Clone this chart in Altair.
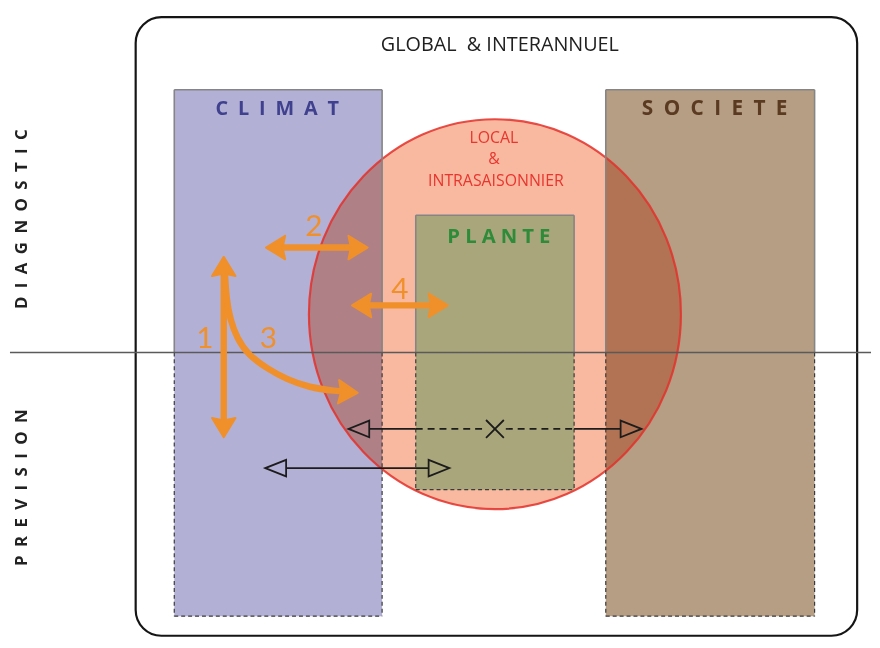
import altair as alt
import pandas as pd

# ---------------- data (diagram coordinates, page pixels) ----------------
# boxes
box_names = ["CLIMAT", "PLANTE", "SOCIETE"]
box_x0 = [176, 420, 612]
box_x1 = [386, 580, 823]
box_y0 = [88, 216, 88]
box_y1 = [625, 496, 625]
box_fill = ["#b3b0d6", "#aaa67b", "#b59e84"]
split_y = 356  # DIAGNOSTIC / PREVISION separation

# box titles (letter-spaced)
title_text = ["C\u2002L\u2002I\u2002M\u2002A\u2002T",
              "P\u2005L\u2005A\u2005N\u2005T\u2005E",
              "S\u2002O\u2002C\u2002I\u2002E\u2002T\u2002E"]
title_x = [280, 504, 722]
title_y = [108, 238, 108]
title_size = [20, 20.5, 21]
title_color = ["#3f418e", "#2e8b3a", "#5b3a22"]

# outer frame
frame_x0, frame_x1, frame_y0, frame_y1 = [137], [866], [14], [645]

# local / intrasaisonnier ellipse
ell_x, ell_y = [500], [317]

# texts
head_text = ["GLOBAL\u00a0\u00a0& INTERANNUEL"]
head_x, head_y = [505], [42]
local_text = ["LOCAL", "&", "INTRASAISONNIER"]
local_x = [499, 499, 501]
local_y = [137, 159, 181]
side_text = ["D\u2002I\u2002A\u2002G\u2002N\u2002O\u2002S\u2002T\u2002I\u2002C",
             "P\u2002R\u2002E\u2002V\u2002I\u2002S\u2002I\u2002O\u2002N"]
side_x = [22, 22]
side_y = [220, 494]
num_text = ["1", "2", "3", "4"]
num_x = [207, 317, 271, 404]
num_y = [342, 228, 342, 292]

# orange arrows: straight shafts
osh_x = [226, 280, 367]
osh_x2 = [226, 360, 441]
osh_y = [270, 249, 308]
osh_y2 = [431, 249, 308]
# orange curved arrow (3)
curve_x = [227, 229, 233, 240, 252, 270, 290, 313, 337, 349]
curve_y = [272, 300, 322, 341, 358, 372, 383, 391, 395, 396]
# orange arrow heads (center, direction in degrees)
ohead_x = [226, 226, 280.5, 359.5, 367.5, 440.5, 349.5]
ohead_y = [270.5, 430.5, 249, 249, 308, 308, 396.5]
ohead_a = [270, 90, 180, 0, 180, 0, 3]

# black arrows
bsolid_x = [373, 580, 289]
bsolid_x2 = [420, 627, 433]
bsolid_y = [434, 434, 474]
bdash_x = [420, 511]
bdash_x2 = [490, 580]
bdash_y = [434, 434]
bhead_x = [362.5, 637.5, 278.5, 443.5]
bhead_y = [434, 434, 474, 474]
bhead_a = [180, 0, 180, 0]
cross_x, cross_y = [500], [434]

# separation line
sep_x, sep_x2, sep_y = [10], [880], [356]

# ---------------- helpers ----------------
XS = alt.Scale(domain=[8, 872], nice=False, zero=False)
YS = alt.Scale(domain=[646, 8], nice=False, zero=False)


def X(f="x"):
    return alt.X(f"{f}:Q", scale=XS, axis=None)


def Y(f="y"):
    return alt.Y(f"{f}:Q", scale=YS, axis=None)


boxes = pd.DataFrame(dict(name=box_names, x=box_x0, x2=box_x1, y=box_y0,
                          y2=box_y1, fill=box_fill))

# border segments derived from boxes
sol = {"x": [], "x2": [], "y": [], "y2": []}
dsh = {"x": [], "x2": [], "y": [], "y2": []}
for a, b, t, bot in zip(box_x0, box_x1, box_y0, box_y1):
    for k, v in zip(("x", "x2", "y", "y2"), (a, b, t, t)):
        sol[k].append(v)
    for xx in (a, b):
        for k, v in zip(("x", "x2", "y", "y2"), (xx, xx, t, split_y)):
            sol[k].append(v)
        for k, v in zip(("x", "x2", "y", "y2"), (xx, xx, split_y, bot)):
            dsh[k].append(v)
    for k, v in zip(("x", "x2", "y", "y2"), (a, b, bot, bot)):
        dsh[k].append(v)
sol = pd.DataFrame(sol)
dsh = pd.DataFrame(dsh)

# ---------------- layers ----------------
frame = alt.Chart(pd.DataFrame(dict(x=frame_x0, x2=frame_x1, y=frame_y0, y2=frame_y1))).mark_rect(
    cornerRadius=26, fillOpacity=0, stroke="#151515", strokeWidth=2.2
).encode(x=X(), x2="x2:Q", y=Y(), y2="y2:Q")

big_boxes = alt.Chart(boxes[boxes.name != "PLANTE"]).mark_rect().encode(
    x=X(), x2="x2:Q", y=Y(), y2="y2:Q", color=alt.Color("fill:N", scale=None)
)

ELL = "M -0.954 0 A 0.954 1 0 1 1 0.954 0 A 0.954 1 0 1 1 -0.954 0 Z"
ell_df = pd.DataFrame(dict(x=ell_x, y=ell_y))
ellipse = alt.Chart(ell_df).mark_point(
    shape=ELL, size=394 * 394, filled=True, fill="#f9b9a0", fillOpacity=1, opacity=1,
    strokeWidth=0, blend="multiply"
).encode(x=X(), y=Y())
ellipse_edge = alt.Chart(ell_df).mark_point(
    shape=ELL, size=394 * 394, filled=False, stroke="#e4312b", strokeWidth=2.2,
    opacity=0.85
).encode(x=X(), y=Y())

plante = alt.Chart(boxes[boxes.name == "PLANTE"]).mark_rect().encode(
    x=X(), x2="x2:Q", y=Y(), y2="y2:Q", color=alt.Color("fill:N", scale=None)
)

solid_b = alt.Chart(sol).mark_rule(color="#858585", strokeWidth=1.6).encode(
    x=X(), x2="x2:Q", y=Y(), y2="y2:Q")
dash_b = alt.Chart(dsh).mark_rule(color="#3a3a3a", strokeWidth=1.2, strokeDash=[4, 3]).encode(
    x=X(), x2="x2:Q", y=Y(), y2="y2:Q")

sep = alt.Chart(pd.DataFrame(dict(x=sep_x, x2=sep_x2, y=sep_y))).mark_rule(
    color="#5a5a5a", strokeWidth=1.6).encode(x=X(), x2="x2:Q", y=Y())

titles = alt.Chart(pd.DataFrame(dict(t=title_text, x=title_x, y=title_y, c=title_color,
                                     s=title_size))).mark_text(
    font="Open Sans", fontWeight="bold", baseline="middle", align="center"
).encode(x=X(), y=Y(), text="t:N", color=alt.Color("c:N", scale=None),
         size=alt.Size("s:Q", scale=None))

head = alt.Chart(pd.DataFrame(dict(t=head_text, x=head_x, y=head_y))).mark_text(
    font="Open Sans", fontSize=20, color="#202020", baseline="middle", align="center"
).encode(x=X(), y=Y(), text="t:N")

local = alt.Chart(pd.DataFrame(dict(t=local_text, x=local_x, y=local_y))).mark_text(
    font="Open Sans", fontSize=16, color="#e8352e", baseline="middle", align="center"
).encode(x=X(), y=Y(), text="t:N")

side = alt.Chart(pd.DataFrame(dict(t=side_text, x=side_x, y=side_y))).mark_text(
    font="Open Sans", fontWeight="bold", fontSize=17, angle=270,
    color="#222222", baseline="middle", align="center"
).encode(x=X(), y=Y(), text="t:N")

nums = alt.Chart(pd.DataFrame(dict(t=num_text, x=num_x, y=num_y))).mark_text(
    font="Lato", fontSize=30, color="#f0902a", baseline="middle", align="center"
).encode(x=X(), y=Y(), text="t:N")

ORANGE = "#f0902a"
shafts = alt.Chart(pd.DataFrame(dict(x=osh_x, x2=osh_x2, y=osh_y, y2=osh_y2))).mark_rule(
    color=ORANGE, strokeWidth=6.5).encode(x=X(), x2="x2:Q", y=Y(), y2="y2:Q")

curve = alt.Chart(pd.DataFrame(dict(x=curve_x, y=curve_y, o=list(range(len(curve_x)))))).mark_line(
    color=ORANGE, strokeWidth=6.5, interpolate="natural"
).encode(x=X(), y=Y(), order="o:Q")

OHEAD = "M 0.95 0 L -0.6 -0.95 L -0.4 0 L -0.6 0.95 Z"
oheads = alt.Chart(pd.DataFrame(dict(x=ohead_x, y=ohead_y, a=ohead_a))).mark_point(
    shape=OHEAD, size=625, filled=True, fill=ORANGE, opacity=1,
    stroke=ORANGE, strokeWidth=2, strokeJoin="round"
).encode(x=X(), y=Y(), angle=alt.Angle("a:Q", scale=None))

BLACK = "#1c1c1c"
bsolid = alt.Chart(pd.DataFrame(dict(x=bsolid_x, x2=bsolid_x2, y=bsolid_y))).mark_rule(
    color=BLACK, strokeWidth=1.6).encode(x=X(), x2="x2:Q", y=Y())
bdash = alt.Chart(pd.DataFrame(dict(x=bdash_x, x2=bdash_x2, y=bdash_y))).mark_rule(
    color=BLACK, strokeWidth=1.6, strokeDash=[7, 5]).encode(x=X(), x2="x2:Q", y=Y())

BHEAD = "M 1 0 L -1 -0.8 L -1 0.8 Z"
bheads = alt.Chart(pd.DataFrame(dict(x=bhead_x, y=bhead_y, a=bhead_a))).mark_point(
    shape=BHEAD, size=441, filled=False, stroke=BLACK, strokeWidth=1.8, opacity=1
).encode(x=X(), y=Y(), angle=alt.Angle("a:Q", scale=None))

CROSS = "M -1 -1 L 1 1 M -1 1 L 1 -1"
cross = alt.Chart(pd.DataFrame(dict(x=cross_x, y=cross_y))).mark_point(
    shape=CROSS, size=324, filled=False, stroke=BLACK, strokeWidth=1.8, opacity=1
).encode(x=X(), y=Y())

chart = alt.layer(
    frame, big_boxes, ellipse, ellipse_edge, plante, solid_b, dash_b, sep,
    titles, head, local, side, nums,
    shafts, curve, oheads, bsolid, bdash, bheads, cross
).properties(width=864, height=632, padding=0, background="white").configure_view(stroke=None)

chart.save("out.html", embed_options={"renderer": "svg", "actions": False})
